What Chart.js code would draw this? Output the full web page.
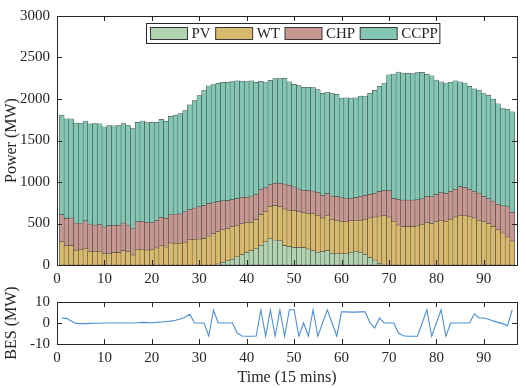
<!DOCTYPE html>
<html>
<head>
<meta charset="utf-8">
<script src="https://cdn.jsdelivr.net/npm/chart.js@4.4.0/dist/chart.umd.min.js"></script>
<style>
  html, body { margin: 0; padding: 0; background: #fff; }
  #wrap { position: relative; width: 526px; height: 388px; }
  #powerChart { position: absolute; left: 0; top: 0; }
  #besChart { position: absolute; left: 0; top: 280px; }
</style>
</head>
<body>
<div id="wrap">
  <canvas id="powerChart" width="526" height="290"></canvas>
  <canvas id="besChart" width="526" height="108"></canvas>
</div>
<script>
// time steps (15 min each)
const time = [1,2,3,4,5,6,7,8,9,10,11,12,13,14,15,16,17,18,19,20,21,22,23,24,25,26,27,28,29,30,31,32,
  33,34,35,36,37,38,39,40,41,42,43,44,45,46,47,48,49,50,51,52,53,54,55,56,57,58,59,60,61,62,63,64,
  65,66,67,68,69,70,71,72,73,74,75,76,77,78,79,80,81,82,83,84,85,86,87,88,89,90,91,92,93,94,95,96];

const pv = [0,0,0,0,0,0,0,0,0,0,0,0,0,0,0,0,0,0,0,0,0,0,0,0,0,0,0,0,0,0,0,0,
  0,12,30,50,68,97,124,150,172,195,236,278,320,300,290,232,220,210,210,208,193,173,154,162,173,142,135,135,135,154,166,154,
  127,89,58,19,0,0,0,0,0,0,0,0,0,0,0,0,0,0,0,0,0,0,0,0,0,0,0,0,0,0,0,0];

const wt = [278,230,232,178,182,200,165,158,165,135,142,150,148,172,158,120,190,190,180,182,205,235,215,265,262,262,272,308,308,312,318,347,
  375,392,394,390,392,380,371,362,343,353,369,362,385,415,415,443,440,445,430,420,429,443,443,404,424,408,404,392,392,377,373,385,
  423,477,520,570,592,578,527,481,462,462,462,470,489,512,500,520,539,527,550,578,597,597,585,566,539,520,500,462,424,385,335,289];

const chp = [327,328,334,326,322,331,328,323,324,323,332,327,329,332,323,315,330,337,332,330,334,339,343,339,350,353,368,361,377,388,398,393,
  373,360,348,336,327,323,320,303,315,302,305,290,260,270,280,300,300,285,275,272,278,274,278,274,261,280,283,281,278,272,271,289,
  285,282,287,296,308,322,273,308,320,320,320,315,308,316,320,327,335,332,336,334,346,339,327,320,327,308,297,308,308,327,365,346];

const ccpp = [1200,1202,1194,1206,1206,1204,1207,1224,1211,1207,1206,1201,1203,1201,1199,1210,1200,1208,1203,1206,1179,1181,1172,1186,1193,1210,1220,1261,1295,1340,1384,1420,
  1427,1426,1428,1424,1423,1420,1400,1395,1390,1350,1302,1275,1260,1260,1260,1275,1248,1238,1247,1242,1240,1248,1240,1228,1226,1235,1235,1202,1209,1207,1204,1206,
  1201,1220,1238,1269,1293,1390,1501,1536,1531,1527,1523,1532,1524,1470,1458,1381,1334,1334,1318,1308,1265,1257,1242,1237,1241,1237,1248,1229,1209,1174,1175,1209];

const bes = [2.4,2.2,1.0,-0.2,-0.3,-0.3,-0.2,-0.1,-0.1,0,0,0,0,0,0,0,0.1,0.3,0.2,0.1,0.3,0.5,0.7,0.9,1.3,1.9,2.7,4.2,0,0,0,-6.2,
  6.1,0,0,0,0,-4.8,-6.2,-6.3,-6.3,-6.2,6.2,-6.3,6.2,-6.3,6.2,-6.3,6.3,6.3,-6.3,0,-6.3,6.3,-6.3,0,6.3,0,-6.3,5.3,5.3,5.2,5.2,5.3,
  5.3,0,-2.4,2.4,0,0,0,-4.8,-6.1,-6.3,-6.3,-6.3,0,6.3,-6.3,0,6.3,-6.3,0,0,0,0,0,4.4,2.4,2.4,1.8,1.0,0.3,-0.3,-1.3,6.4];

const xTicks = [0,10,20,30,40,50,60,70,80,90];
const powerTicks = [0,500,1000,1500,2000,2500,3000];
const besTicks = [-10,0,10];

const serif = "'Liberation Serif', 'Times New Roman', serif";
Chart.defaults.font.family = serif;
Chart.defaults.font.size = 15;
Chart.defaults.color = '#262626';

const edge = '#3a3a3a';

// box around the plot area with MATLAB-style inward ticks
const axisFrame = {
  id: 'axisFrame',
  afterDatasetsDraw(chart) {
    const {ctx, chartArea: a, scales: {x, y}} = chart;
    ctx.save();
    ctx.strokeStyle = '#262626';
    ctx.lineWidth = 1;
    ctx.beginPath();
    x.ticks.forEach(t => {
      const px = Math.round(x.getPixelForValue(t.value)) + 0.5;
      ctx.moveTo(px, a.bottom); ctx.lineTo(px, a.bottom - 5);
      ctx.moveTo(px, a.top); ctx.lineTo(px, a.top + 5);
    });
    y.ticks.forEach(t => {
      const py = Math.round(y.getPixelForValue(t.value)) + 0.5;
      ctx.moveTo(a.left, py); ctx.lineTo(a.left + 5, py);
      ctx.moveTo(a.right, py); ctx.lineTo(a.right - 5, py);
    });
    ctx.stroke();
    ctx.strokeRect(Math.round(a.left) + 0.5, Math.round(a.top) + 0.5,
      Math.round(a.right - a.left), Math.round(a.bottom - a.top));
    ctx.restore();
  }
};

// horizontal legend box at the top of the plot
const boxLegend = {
  id: 'boxLegend',
  afterDraw(chart) {
    const {ctx, chartArea: a} = chart;
    const sets = chart.data.datasets;
    ctx.save();
    ctx.font = '15px ' + serif;
    const patchW = 37, patchH = 12, gap = 4, after = 5;
    let w = 4;
    sets.forEach(d => { w += patchW + gap + ctx.measureText(d.label).width + after; });
    w -= after - 2;
    const x0 = Math.round(a.left + 89) + 0.5, y0 = Math.round(a.top + 7) + 0.5, h = 20;
    ctx.fillStyle = '#fff';
    ctx.fillRect(x0, y0, w, h);
    ctx.strokeStyle = '#262626';
    ctx.lineWidth = 1;
    ctx.strokeRect(x0, y0, w, h);
    let x = x0 + 4;
    sets.forEach(d => {
      ctx.fillStyle = d.backgroundColor;
      ctx.fillRect(x, y0 + 4, patchW, patchH);
      ctx.strokeStyle = edge;
      ctx.strokeRect(x, y0 + 4, patchW, patchH);
      x += patchW + gap;
      ctx.fillStyle = '#262626';
      ctx.textBaseline = 'middle';
      ctx.fillText(d.label, x, y0 + h / 2 + 1);
      x += ctx.measureText(d.label).width + after;
    });
    ctx.restore();
  }
};

function barSet(label, data, color) {
  return {
    label: label,
    data: data,
    backgroundColor: color,
    borderColor: edge,
    borderWidth: 0.5,
    borderSkipped: false,
    barPercentage: 1,
    categoryPercentage: 1
  };
}

function xAxis(height, showTitle) {
  return {
    type: 'linear',
    min: 0,
    max: 97,
    offset: false,
    stacked: true,
    grid: { display: false, drawTicks: false },
    border: { display: false },
    ticks: { padding: 5, maxRotation: 0, autoSkip: false, callback: v => String(v) },
    afterBuildTicks: s => { s.ticks = xTicks.map(v => ({ value: v })); },
    afterFit: s => { s.height = height; },
    title: {
      display: showTitle,
      text: 'Time (15 mins)',
      font: { size: 16 },
      padding: { top: 0, bottom: 1 }
    }
  };
}

function yAxis(ticks, min, max, label) {
  return {
    min: min,
    max: max,
    stacked: true,
    grid: { display: false, drawTicks: false },
    border: { display: false },
    ticks: { padding: 7, autoSkip: false, callback: v => String(v) },
    afterBuildTicks: s => { s.ticks = ticks.map(v => ({ value: v })); },
    afterFit: s => { s.width = 57; },
    title: { display: true, text: label, font: { size: 16 }, padding: { top: 2, bottom: 0 } }
  };
}

new Chart(document.getElementById('powerChart'), {
  type: 'bar',
  data: {
    labels: time,
    datasets: [
      barSet('PV', pv, '#b2d3b0'),
      barSet('WT', wt, '#d8b96e'),
      barSet('CHP', chp, '#c59790'),
      barSet('CCPP', ccpp, '#82c6b3')
    ]
  },
  options: {
    responsive: false,
    animation: false,
    layout: { padding: { left: 0, right: 9, top: 7, bottom: 0 } },
    plugins: { legend: { display: false }, tooltip: { enabled: false } },
    scales: {
      x: xAxis(25, false),
      y: yAxis(powerTicks, 0, 3000, 'Power (MW)')
    }
  },
  plugins: [axisFrame, boxLegend]
});

new Chart(document.getElementById('besChart'), {
  type: 'line',
  data: {
    labels: time,
    datasets: [{
      label: 'BES',
      data: bes,
      borderColor: '#4a8fd8',
      borderWidth: 1.1,
      pointRadius: 0,
      tension: 0,
      fill: false
    }]
  },
  options: {
    responsive: false,
    animation: false,
    layout: { padding: { left: 0, right: 9, top: 22, bottom: 0 } },
    plugins: { legend: { display: false }, tooltip: { enabled: false } },
    scales: {
      x: xAxis(44, true),
      y: yAxis(besTicks, -10, 10, 'BES (MW)')
    }
  },
  plugins: [axisFrame]
});
</script>
</body>
</html>
